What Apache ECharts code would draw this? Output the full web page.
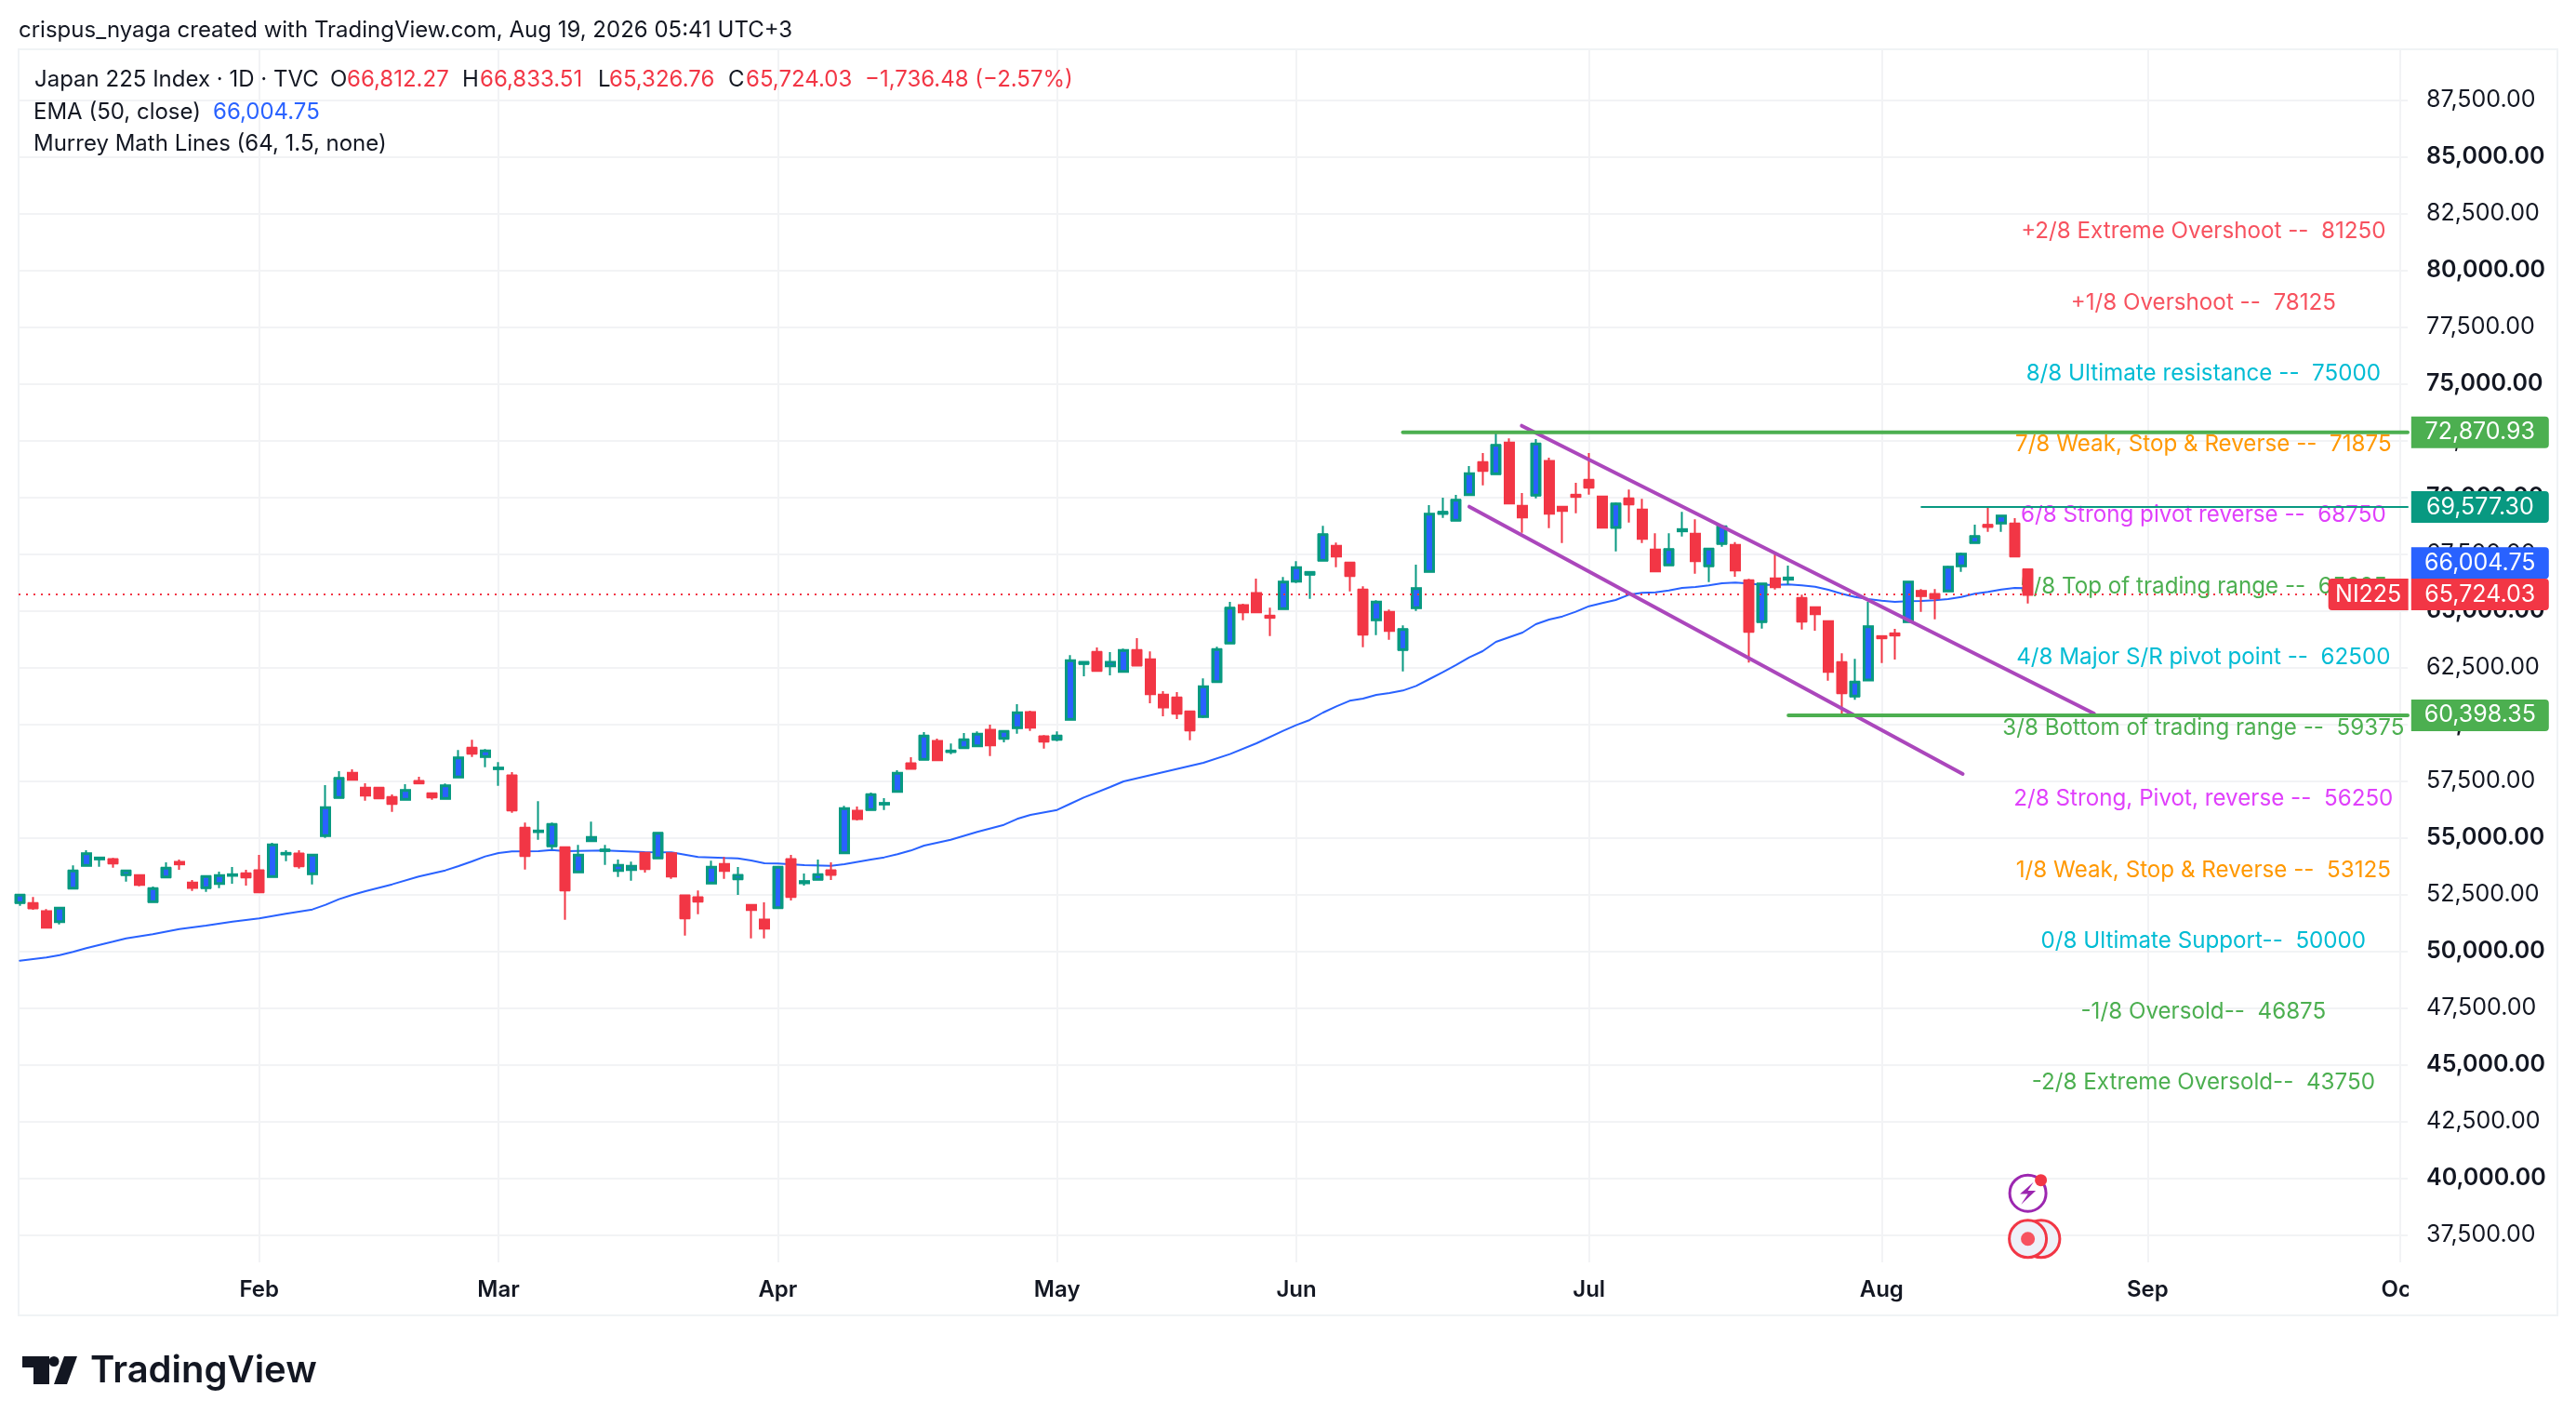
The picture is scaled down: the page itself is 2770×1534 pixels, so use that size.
<!DOCTYPE html>
<html><head><meta charset="utf-8">
<style>html,body{margin:0;padding:0;background:#fff}#c{width:2770px;height:1534px}</style>
<script src="https://cdn.jsdelivr.net/npm/echarts@6/dist/echarts.min.js"></script>
</head><body><div id="c"></div>
<script>
const opens=[52146,52105,51750,51313,52788,53785,54072,54045,53376,53335,
52187,53280,53922,53007,52802,52993,53348,53417,53553,53294,
54291,54291,53417,55097,56777,57843,57187,57187,56777,56695,
57488,56941,56736,57679,58949,58580,58048,57733,55425,55274,
54646,54564,53499,54878,54441,53567,53608,54318,54113,54304,
52447,52365,53007,53826,53198,52023,51381,51928,54045,53020,
53171,53553,54345,56176,56244,56490,57050,58266,58457,59250,
58799,58977,59059,59742,59386,59851,60520,59455,59345,60220,
62679,63171,62583,62337,63253,62843,61285,61163,60548,60343,
61887,63580,65234,65766,64769,65097,66313,66613,67228,67843,
67105,65917,64605,64933,63294,65138,66736,69291,68990,70124,
71531,71040,72392,69605,70097,71586,69564,70097,70753,70015,
68676,69933,69441,67679,67023,68526,68376,66982,67966,67884,
66327,64523,66409,66395,65548,65138,64523,62720,61244,61955,
63867,63990,64523,65862,65725,65875,66982,68006,68771,68867,68826,66812.27];
const closes=[52474,51914,51067,51900,53539,54305,54113,53895,53539,52952,
52761,53662,53854,52815,53294,53335,53376,53280,52624,54687,
54318,53772,54236,56326,57624,57583,56886,56763,56518,57091,
57419,56804,57296,58526,58731,58826,58075,56231,54222,55302,
55589,52706,54236,55015,54468,53785,53744,53649,55206,53321,
51477,52214,53703,53567,53348,51845,51026,53703,52419,53075,
53376,53389,56285,55848,56900,56518,57843,58061,59482,58444,
58826,59318,59564,59100,59687,60507,59878,59263,59482,62802,
62734,62378,62734,63253,62611,61354,60766,60493,59755,61654,
63294,65124,64960,64960,64714,66272,66900,66695,68362,67419,
66559,63977,65384,64141,64182,65985,69263,69346,69878,71040,
71190,72296,69755,69141,72351,69305,69428,70042,70452,68690,
69715,69715,68198,66764,67706,68581,67215,67720,68704,66805,
64100,66190,66067,66449,64551,64879,62338,61394,61859,64304,
63812,63935,66271,65670,65575,66927,67501,68280,68717,69181,67419,65724.03];
const highs=[52529,52392,51859,51941,53785,54455,54113,54113,53539,53389,
52856,53922,54045,53143,53294,53512,53717,53594,54250,54783,
54455,54455,54236,57324,57938,58020,57406,57187,56914,57365,
57692,56941,57392,58867,59318,58908,58334,57897,55671,56613,
55671,54564,54687,55712,54687,54045,53949,54345,55206,54304,
52488,52679,53990,54154,53717,52023,52160,53703,54250,53430,
54045,53922,56408,56381,56996,56750,57979,58553,59660,59373,
59154,59619,59687,59988,59742,60889,60602,59523,59687,63048,
62734,63389,63184,63335,63799,63212,61463,61422,60548,62023,
63417,65397,65315,66422,65138,66490,67187,66723,68744,68007,
67105,66081,65466,65056,64359,67037,69660,69988,70111,71381,
71955,72870.93,72597,70193,72570,71750,69564,70643,71955,70056,
69769,70343,69933,68417,68417,69359,69031,67761,68772,68034,
66409,66190,67570,66996,65712,65193,64564,63130,62884,65397,
63867,64209,66271,65957,65957,66982,67569,68799,69577.3,69181,69086,66833.51];
const lows=[52009,51832,51067,51190,52733,53758,53731,53690,53075,52870,
52187,53239,53594,52665,52624,52788,52979,52897,52624,53294,
53977,53649,52952,55001,56777,57542,56640,56763,56149,56695,
57392,56682,56736,57679,58567,58116,57296,56108,53608,54919,
54482,51395,53499,54878,53813,53280,53116,53471,54113,53198,
50698,51641,53007,53198,52488,50575,50575,51873,52242,52897,
53171,53143,54345,55766,56244,56231,56996,58020,58457,58444,
58690,58977,59004,58608,59209,59591,59714,58936,59263,60220,
62119,62378,62160,62337,62611,60930,60357,60234,59305,60288,
61846,63553,64591,64960,63895,65097,66231,65534,67228,66928,
65862,63403,63936,63731,62337,65001,66736,69100,68990,70070,
70534,71040,69755,68444,69960,68649,67993,69305,70124,68690,
67624,68895,67993,66764,67023,68280,66641,66272,67829,66504,
62720,64223,65944,66163,64182,64127,61928,60398.35,61080,61955,
62706,62856,64523,64960,64632,65875,66722,68006,68484,68484,67378,65326.76];

const emaBars=[0,2,3,4,5,6,7,8,10,12,14,16,18,20,22,23,24,25,26,28,30,32,33,34,35,36,37,39,40,41,44,47,49,51,53,54,55,56,57,59,61,62,64,65,66,67,68,70,72,74,75,76,78,79,80,82,83,89,91,93,95,96,97,98,99,100,101,102,103,104,105,106,107,108,109,110,111,112,113,114,115,116,117,118,119,120,121,122,123,124,125,126,127,128,129,130,131,132,133,134,135,136,137,138,139,140,141,142,143,144,145,146,147,148,149,150,151];
const emaVals=[49591,49728,49837,49974,50138,50288,50425,50575,50753,50985,51135,51313,51449,51654,51845,52050,52296,52488,52652,52952,53294,53567,53758,53963,54182,54332,54400,54414,54469,54414,54441,54373,54359,54154,54113,54100,54004,53881,53867,53799,53772,53840,54045,54141,54277,54441,54660,54919,55261,55575,55835,56012,56231,56504,56777,57242,57488,58307,58690,59168,59714,59974,60193,60520,60794,61040,61135,61299,61381,61490,61695,61996,62297,62611,62952,63225,63635,63840,64045,64414,64619,64755,64960,65206,65343,65480,65712,65794,65821,65903,66012,66053,66122,66218,66245,66204,66149,66149,66163,66122,66067,65930,65753,65616,65521,65452,65398,65425,65439,65466,65521,65616,65752,65834,65944,66012,66004.75];

const monthBars=[18,36,57,78,96,118,140,160,179];
const monthNames=['Feb','Mar','Apr','May','Jun','Jul','Aug','Sep','Oct'];
const priceTicks=[37500,40000,42500,45000,47500,50000,52500,55000,57500,60000,62500,65000,67500,70000,72500,75000,77500,80000,82500,85000,87500];

const murreyLevels=[81250,78125,75000,71875,68750,65625,62500,59375,56250,53125,50000,46875,43750];
const murreyTexts=['+2/8 Extreme Overshoot --  81250','+1/8 Overshoot --  78125','8/8 Ultimate resistance --  75000','7/8 Weak, Stop & Reverse --  71875','6/8 Strong pivot reverse --  68750','5/8 Top of trading range --  65625','4/8 Major S/R pivot point --  62500','3/8 Bottom of trading range --  59375','2/8 Strong, Pivot, reverse --  56250','1/8 Weak, Stop & Reverse --  53125','0/8 Ultimate Support--  50000','-1/8 Oversold--  46875','-2/8 Extreme Oversold--  43750'];
const murreyColors=['#f7525f','#f7525f','#00bcd4','#ff9800','#e040fb','#4caf50','#00bcd4','#4caf50','#e040fb','#ff9800','#00bcd4','#4caf50','#4caf50'];

const upperChannelBars=[112.94,155.97], upperChannelVals=[73156,60479];
const lowerChannelBars=[109,146.1], lowerChannelVals=[69590,57815];
const highLevel=72870.93, highFrom=104;
const lowLevel=60398.35, lowFrom=133;
const recentHigh=69577.30, recentFrom=143;
const lastClose=65724.03, lastEma=66004.75;

const XMIN=-0.09, XMAX=179.56, TAGX=185.0, NAMEX=176.6;
const FONT='Inter, "Noto Sans", sans-serif';
const CAND=opens.map((o,i)=>[i,o,closes[i],lows[i],highs[i]]);
const BODY=opens.map((o,i)=>[i,o,closes[i],Math.min(o,closes[i]),Math.max(o,closes[i])]);

function lineSeries(name,xs,ys,color,width,z,extra){
  return Object.assign({name,type:'line',data:xs.map((x,i)=>[x,ys[i]]),showSymbol:false,symbol:'none',silent:true,animation:false,z,
    lineStyle:Object.assign({color,width,cap:'round'},extra||{})});
}
function tag(val,color,label,off,w,radius){
  return {value:[label==='NI225'?NAMEX:TAGX,val],label:{show:true,position:'inside',formatter:label,color:'#fff',fontFamily:FONT,fontSize:25,
    backgroundColor:color,width:w,height:34,lineHeight:34,align:'center',verticalAlign:'middle',borderRadius:radius,offset:[0,off]}};
}
const chart=echarts.init(document.getElementById('c'),null,{renderer:'canvas',width:2770,height:1534,devicePixelRatio:1});
const lineGray='#f2f3f5';
const hdr=[
 {t:'Japan 225 Index · 1D · TVC',x:37,c:'#131722'},{t:'O',x:355,c:'#131722'},{t:'66,812.27',x:373,c:'#f23645'},
 {t:'H',x:497,c:'#131722'},{t:'66,833.51',x:516,c:'#f23645'},{t:'L',x:643,c:'#131722'},{t:'65,326.76',x:655,c:'#f23645'},
 {t:'C',x:783,c:'#131722'},{t:'65,724.03',x:802,c:'#f23645'},{t:'−1,736.48 (−2.57%)',x:930,c:'#f23645'}];
const txt=(t,x,y,c,size,weight)=>({type:'text',z:100,style:{text:t,x,y,fill:c,font:`${weight||400} ${size}px ${FONT}`,textVerticalAlign:'middle'}});
const graphics=[
 {type:'rect',z:-10,shape:{x:20,y:53,width:2730,height:1361},style:{fill:'none',stroke:'#f0f3f5',lineWidth:2}},
 {type:'rect',z:90,shape:{x:2590,y:1360,width:20,height:50},style:{fill:'#fff'}},
 txt('crispus_nyaga created with TradingView.com, Aug 19, 2026 05:41 UTC+3',20,33,'#131722',24),
 ...hdr.map(h=>txt(h.t,h.x,86,h.c,24)),
 txt('EMA (50, close)',36,121,'#131722',24),txt('66,004.75',229,121,'#2962ff',24),
 txt('Murrey Math Lines (64, 1.5, none)',36,155,'#131722',24),
 {type:'polygon',z:100,shape:{points:[[24,1458],[53,1458],[53,1488],[36,1488],[36,1470],[24,1470]]},style:{fill:'#131722'}},
 {type:'circle',z:100,shape:{cx:58,cy:1463.5,r:5.5},style:{fill:'#131722'}},
 {type:'polygon',z:100,shape:{points:[[69,1458],[83,1458],[72,1488],[58,1488]]},style:{fill:'#131722'}},
 txt('TradingView',97,1474,'#131722',40,600)
];
const boltPath='path://M14 0 L2 14 L9 14 L3 26 L16 10 L9 10 Z';
const clear={color:'rgba(0,0,0,0)',opacity:1};
chart.setOption({
 animation:false,backgroundColor:'#fff',textStyle:{fontFamily:FONT},
 grid:{left:20,top:53,width:2569,height:1304,containLabel:false},
 xAxis:{type:'value',min:XMIN,max:XMAX,
  axisLine:{show:false},
  axisTick:{show:false,customValues:monthBars},
  axisLabel:{show:true,customValues:monthBars,color:'#131722',fontFamily:FONT,fontSize:24,fontWeight:600,margin:18,hideOverlap:false,
    formatter:v=>monthNames[monthBars.indexOf(v)]||''},
  splitLine:{show:true,lineStyle:{color:lineGray,width:2}}},
 yAxis:{type:'value',position:'right',min:36299,max:89741,
  axisLine:{show:false},
  axisTick:{show:false,customValues:priceTicks},
  axisLabel:{show:true,customValues:priceTicks,margin:20,align:'left',color:'#131722',fontFamily:FONT,fontSize:25,
    formatter:v=>{const s=v.toLocaleString('en-US',{minimumFractionDigits:2,maximumFractionDigits:2});return v%5000===0?'{b|'+s+'}':s;},
    rich:{b:{fontWeight:600,fontSize:25,color:'#131722',fontFamily:FONT}}},
  splitLine:{show:true,lineStyle:{color:lineGray,width:2}}},
 graphic:{elements:graphics},
 series:[
  {name:'Murrey labels',type:'scatter',silent:true,z:3,symbolSize:1,itemStyle:clear,
   data:murreyLevels.map((v,i)=>({value:[164.2,v],label:{show:true,position:'inside',offset:[0,-11],formatter:murreyTexts[i],color:murreyColors[i],fontFamily:FONT,fontSize:24.2}}))},
  lineSeries('EMA',emaBars,emaVals,'#2962ff',2,4),
  {name:'Japan 225',type:'candlestick',z:5,silent:true,barWidth:10,data:CAND,
   itemStyle:{color:'#2962ff',color0:'#f23645',borderColor:'#089981',borderColor0:'#f23645',borderWidth:2}},
  {name:'Japan 225 bodies',type:'candlestick',z:5,silent:true,barWidth:9,data:BODY,
   itemStyle:{color:'#2962ff',color0:'#f23645',borderColor:'#089981',borderColor0:'#f23645',borderWidth:3}},
  lineSeries('Close',[XMIN,XMAX],[lastClose,lastClose],'#f23645',2,6,{type:[2,6],cap:'butt'}),
  lineSeries('Upper channel',upperChannelBars,upperChannelVals,'#ab47bc',4,7),
  lineSeries('Lower channel',lowerChannelBars,lowerChannelVals,'#ab47bc',4,7),
  lineSeries('High',[highFrom,XMAX],[highLevel,highLevel],'#4caf50',4,8),
  lineSeries('Low',[lowFrom,XMAX],[lowLevel,lowLevel],'#4caf50',4,8),
  lineSeries('Recent high',[recentFrom,XMAX],[recentHigh,recentHigh],'#089981',2,8),
  {name:'Tags',type:'scatter',silent:true,z:20,clip:false,symbolSize:1,itemStyle:clear,
   data:[tag(lowLevel,'#4caf50','60,398.35',0,148,[0,4,4,0]),tag(highLevel,'#4caf50','72,870.93',0,148,[0,4,4,0]),tag(recentHigh,'#089981','69,577.30',0,148,[0,4,4,0]),
         tag(lastEma,'#2962ff','66,004.75',-27,148,[0,4,4,0]),tag(lastClose,'#f23645','NI225',0,86,[4,0,0,4]),tag(lastClose,'#f23645','65,724.03',0,148,[0,4,4,0])]},
  {name:'Event ring',type:'scatter',silent:true,z:9,symbol:'circle',symbolSize:39,itemStyle:{color:'#fff',borderColor:'#9c27b0',borderWidth:3,opacity:1},data:[[151,39344]]},
  {name:'Event bolt',type:'scatter',silent:true,z:10,symbol:boltPath,symbolSize:[17,24],itemStyle:{color:'#9c27b0',opacity:1},data:[[151,39344]]},
  {name:'Event dot',type:'scatter',silent:true,z:10,symbol:'circle',symbolSize:13,symbolOffset:[14,-14],itemStyle:{color:'#f23645',opacity:1},data:[[151,39344]]},
  {name:'Target back',type:'scatter',silent:true,z:9,symbol:'circle',symbolSize:40,itemStyle:{color:'#eef0f8',borderColor:'#f23645',borderWidth:3,opacity:1},data:[[152,37335]]},
  {name:'Target front',type:'scatter',silent:true,z:10,symbol:'circle',symbolSize:40,itemStyle:{color:'#eef0f8',borderColor:'#f23645',borderWidth:3,opacity:1},data:[[151,37335]]},
  {name:'Target dot',type:'scatter',silent:true,z:11,symbol:'circle',symbolSize:15,itemStyle:{color:'#f7525f',opacity:1},data:[[151,37335]]}
 ]
});
</script></body></html>
